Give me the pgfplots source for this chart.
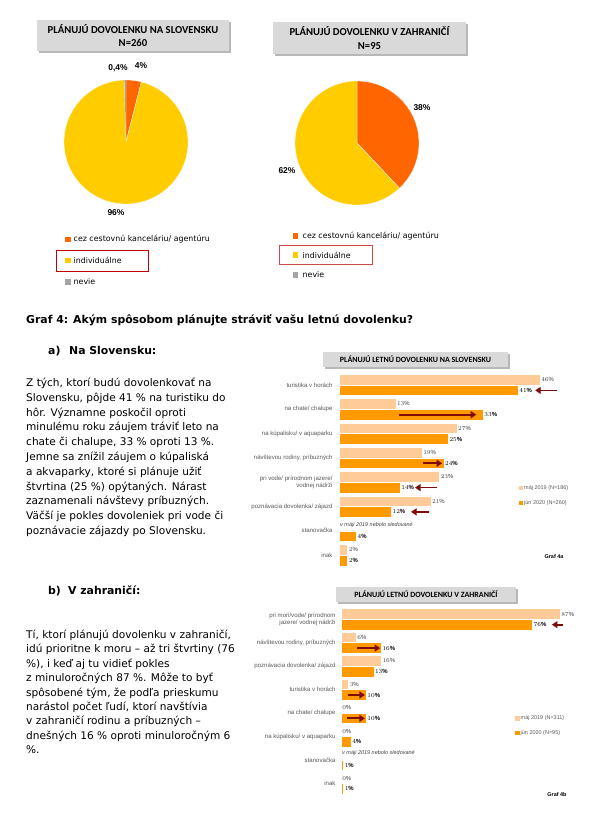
\documentclass[border=0pt]{standalone}
\usepackage{pgfplots}
\pgfplotsset{compat=1.18}
\usetikzlibrary{arrows.meta}
\usepackage{fontspec}
\setmainfont{DejaVu Sans}
\newfontfamily\arialf{Liberation Sans}
\newfontfamily\calf{Carlito}
\definecolor{pieOrange}{HTML}{FF6600}
\definecolor{pieYellow}{HTML}{FFCC00}
\definecolor{pieGrey}{HTML}{A5A5A5}
\definecolor{barPeach}{HTML}{FFCC99}
\definecolor{barOrange}{HTML}{FF9900}
\definecolor{arrRed}{HTML}{7F0B0B}
\definecolor{boxGrey}{HTML}{D9D9D9}
\definecolor{shadowGrey}{HTML}{B8B8B8}
\definecolor{labGrey}{HTML}{595959}
\definecolor{valGrey}{HTML}{404040}
\definecolor{boxRed}{HTML}{C00000}
\definecolor{boxRedB}{HTML}{D04848}
\newcommand{\bodyfont}{\fontsize{10.6}{14.8}\selectfont}
\newcommand{\headfont}{\bfseries\fontsize{10.9}{12}\selectfont}
\newcommand{\legfont}{\fontsize{7.9}{9}\selectfont}
\newcommand{\pielab}{\arialf\bfseries\fontsize{8.5}{10}\selectfont}
\newcommand{\catfont}{\arialf\fontsize{6.1}{7.4}\selectfont}
\newcommand{\valfont}{\arialf\fontsize{6}{7}\selectfont}
\newcommand{\smallfont}{\arialf\fontsize{5.5}{6.5}\selectfont}
\pgfplotsset{
  pieax/.style={scale only axis, width=124bp, height=124bp, xmin=-1, xmax=1, ymin=-1, ymax=1, hide axis, clip=false, anchor=center},
  barax/.style={scale only axis, anchor=north west, ymin=0.5, ymax=8.5, y dir=reverse, xmin=0, clip=false,
     axis line style={draw=none}, major tick length=0pt, xtick=\empty, ytick={1,2,3,4,5,6,7,8},
     yticklabel style={font=\catfont, text=labGrey, align=right},
     point meta=x, nodes near coords={\pgfmathprintnumber{\pgfplotspointmeta}\%}},
  b19/.style={xbar, bar shift=0pt, fill=barPeach, draw=white, line width=0.5bp,
     every node near coord/.append style={font=\valfont, text=valGrey, anchor=west, inner sep=1bp}},
  b20/.style={xbar, bar shift=0pt, fill=barOrange, draw=white, line width=0.5bp,
     every node near coord/.append style={font=\valfont\bfseries, text=black, anchor=west, inner sep=1bp}},
}
\tikzset{arr/.style={draw=arrRed, line width=1.8bp, -{Triangle[length=5.5bp,width=7bp]}}}
\begin{document}
\begin{tikzpicture}
\useasboundingbox (0,0) rectangle (593bp,-834bp);
\fill[white] (0,0) rectangle (593bp,-834bp);

% ---------- Pie 1: na Slovensku (4 / 96 / 0.4) ----------
\begin{axis}[pieax, at={(126bp,-142bp)}]
\addplot[fill=pieOrange, draw=white, line width=0.3bp, domain=75.66:90, samples=20] ({cos(x)},{sin(x)}) -- (axis cs:0,0) -- cycle;
\addplot[fill=pieYellow, draw=white, line width=0.3bp, domain=-268.56:75.66, samples=160] ({cos(x)},{sin(x)}) -- (axis cs:0,0) -- cycle;
\addplot[fill=pieGrey, draw=none, domain=-270:-268.56, samples=5] ({cos(x)},{sin(x)}) -- (axis cs:0,0) -- cycle;
\end{axis}

% ---------- Pie 2: v zahranici (38 / 62) ----------
\begin{axis}[pieax, at={(357bp,-143bp)}]
\addplot[fill=pieOrange, draw=white, line width=0.3bp, domain=-46.8:90, samples=60] ({cos(x)},{sin(x)}) -- (axis cs:0,0) -- cycle;
\addplot[fill=pieYellow, draw=white, line width=0.3bp, domain=-270:-46.8, samples=110] ({cos(x)},{sin(x)}) -- (axis cs:0,0) -- cycle;
\end{axis}

% ---------- Graf 4a ----------
\begin{axis}[barax, at={(339bp,-372.85bp)}, width=244.72bp, height=194.4bp, xmax=56, bar width=0.44,
  yticklabel style={xshift=-3bp},
  yticklabels={turistika v horách, na chate/ chalupe, {na kúpalisku/ v aquaparku}, {návštevou rodiny, príbuzných}, {pri vode/ prírodnom jazere/\\vodnej nádrži}, {poznávacia dovolenka/ zájazd}, stanovačka, inak}]
\addplot[b19] coordinates {(46,0.778) (13,1.778) (27,2.778) (19,3.778) (23,4.778) (21,5.778) (2,7.778)};
\addplot[b20] coordinates {(41,1.222) (33,2.222) (25,3.222) (24,4.222) (14,5.222) (12,6.222) (4,7.222) (2,8.222)};
\draw[arr] (axis cs:49.9,1.222) -- (axis cs:44.9,1.222);
\draw[arr] (axis cs:13.7,2.222) -- (axis cs:31.4,2.222);
\draw[arr] (axis cs:19.2,4.222) -- (axis cs:23.6,4.222);
\draw[arr] (axis cs:22.4,5.222) -- (axis cs:17.4,5.222);
\draw[arr] (axis cs:20.6,6.222) -- (axis cs:16.5,6.222);
\end{axis}

% ---------- Graf 4b ----------
\begin{axis}[barax, at={(341bp,-607.6bp)}, width=239.4bp, height=187.44bp, xmax=95, bar width=0.457,
  yticklabel style={xshift=-2bp},
  yticklabels={{pri mori/vode/ prírodnom\\jazere/ vodnej nádrži}, {návštevou rodiny, príbuzných}, {poznávacia dovolenka/ zájazd}, turistika v horách, na chate/ chalupe, {na kúpalisku/ v aquaparku}, stanovačka, inak}]
\addplot[b19] coordinates {(87,0.772) (6,1.772) (16,2.772) (3,3.772) (0,4.772) (0,5.772) (0,7.772)};
\addplot[b20] coordinates {(76,1.228) (16,2.228) (13,3.228) (10,4.228) (10,5.228) (4,6.228) (1,7.228) (1,8.228)};
\draw[arr] (axis cs:88.1,1.228) -- (axis cs:83.7,1.228);
\draw[arr] (axis cs:6.3,2.228) -- (axis cs:15.5,2.228);
\draw[arr] (axis cs:2.8,4.228) -- (axis cs:9.5,4.228);
\draw[arr] (axis cs:2.4,5.228) -- (axis cs:9.5,5.228);
\end{axis}

\begin{scope}[x=1bp,y=-1bp]
% pie title boxes
\fill[shadowGrey] (39,22) rectangle (231,53);
\fill[boxGrey] (37,20) rectangle (229,51);
\node[font=\calf\bfseries\fontsize{10.7}{13.4}\selectfont, align=center] at (133,35.5) {PLÁNUJÚ DOVOLENKU NA SLOVENSKU\\N=260};
\fill[shadowGrey] (275,24) rectangle (468,56);
\fill[boxGrey] (273,22) rectangle (466,54);
\node[font=\calf\bfseries\fontsize{10.7}{13.4}\selectfont, align=center] at (369.5,38) {PLÁNUJÚ DOVOLENKU V ZAHRANIČÍ\\N=95};
% pie labels
\node[font=\pielab] at (118,68) {0,4\%};
\node[font=\pielab] at (141,66) {4\%};
\node[font=\pielab] at (116,213) {96\%};
\node[font=\pielab] at (422,108) {38\%};
\node[font=\pielab] at (287,171) {62\%};
% pie legends
\fill[pieOrange] (65.3,236.5) rectangle ++(5.4,5.4);
\node[anchor=west, font=\legfont, inner sep=0] at (73.5,239.2) {cez cestovnú kanceláriu/ agentúru};
\fill[pieYellow] (65.3,257.8) rectangle ++(5.4,5.4);
\node[anchor=west, font=\legfont, inner sep=0] at (73.5,260.5) {individuálne};
\fill[pieGrey] (65.3,279.2) rectangle ++(5.4,5.4);
\node[anchor=west, font=\legfont, inner sep=0] at (73.5,281.9) {nevie};
\draw[boxRed, line width=1bp] (56,250.7) rectangle (148.3,271);
\fill[pieOrange] (293,233.3) rectangle ++(5.4,5.4);
\node[anchor=west, font=\legfont, inner sep=0] at (302.5,236) {cez cestovnú kanceláriu/ agentúru};
\fill[pieYellow] (293,252.3) rectangle ++(5.4,5.4);
\node[anchor=west, font=\legfont, inner sep=0] at (302.5,255) {individuálne};
\fill[pieGrey] (293,272.3) rectangle ++(5.4,5.4);
\node[anchor=west, font=\legfont, inner sep=0] at (302.5,275) {nevie};
\draw[boxRedB, line width=1bp] (279,245.7) rectangle (372,264);

% headings
\node[anchor=base west, font=\headfont, inner sep=0] at (26,323) {Graf 4: Akým spôsobom plánujte stráviť vašu letnú dovolenku?};
\node[anchor=base west, font=\headfont, inner sep=0] at (48,354) {a)};
\node[anchor=base west, font=\headfont, inner sep=0] at (69,354) {Na Slovensku:};
\node[anchor=base west, font=\headfont, inner sep=0] at (48,594) {b)};
\node[anchor=base west, font=\headfont, inner sep=0] at (68,594) {V zahraničí:};

% body text a)
\begin{scope}[every node/.style={anchor=base west, font=\bodyfont, inner sep=0}]
\node at (26,386.5) {Z tých, ktorí budú dovolenkovať na};
\node at (26,401.3) {Slovensku, pôjde 41 \% na turistiku do};
\node at (26,416.1) {hôr. Významne poskočil oproti};
\node at (26,430.9) {minulému roku záujem tráviť leto na};
\node at (26,445.7) {chate či chalupe, 33 \% oproti 13 \%.};
\node at (26,460.5) {Jemne sa znížil záujem o kúpaliská};
\node at (26,475.3) {a akvaparky, ktoré si plánuje užiť};
\node at (26,490.1) {štvrtina (25 \%) opýtaných. Nárast};
\node at (26,504.9) {zaznamenali návštevy príbuzných.};
\node at (26,519.7) {Väčší je pokles dovoleniek pri vode či};
\node at (26,534.5) {poznávacie zájazdy po Slovensku.};
% body text b)
\node at (26,638.5) {Tí, ktorí plánujú dovolenku v zahraničí,};
\node at (26,652.9) {idú prioritne k moru – až tri štvrtiny (76};
\node at (26,667.3) {\%), i keď aj tu vidieť pokles};
\node at (26,681.7) {z minuloročných 87 \%. Môže to byť};
\node at (26,696.1) {spôsobené tým, že podľa prieskumu};
\node at (26,710.5) {narástol počet ľudí, ktorí navštívia};
\node at (26,724.9) {v zahraničí rodinu a príbuzných –};
\node at (26,739.3) {dnešných 16 \% oproti minuloročným 6};
\node at (26,753.7) {\%.};
\end{scope}

% bar chart title boxes
\fill[shadowGrey] (325,354) rectangle (510,369);
\fill[boxGrey] (323,352) rectangle (508,367);
\node[font=\calf\bfseries\fontsize{8}{9}\selectfont] at (415.5,359.5) {PLÁNUJÚ LETNÚ DOVOLENKU NA SLOVENSKU};
\fill[shadowGrey] (338,589) rectangle (518,604);
\fill[boxGrey] (336,587) rectangle (516,602);
\node[font=\calf\bfseries\fontsize{8}{9}\selectfont] at (426,594.5) {PLÁNUJÚ LETNÚ DOVOLENKU V ZAHRANIČÍ};

% bar chart notes and legends
\node[anchor=west, font=\smallfont\itshape, text=valGrey, inner sep=0] at (340,525.3) {v máji 2019 nebolo sledované};
\node[anchor=west, font=\smallfont\itshape, text=valGrey, inner sep=0] at (342,753.2) {v máji 2019 nebolo sledované};
\fill[barPeach] (518.8,485.8) rectangle ++(4.4,4.4);
\node[anchor=west, font=\smallfont, text=labGrey, inner sep=0] at (524,488) {máj 2019 (N=186)};
\fill[barOrange] (518.8,500.8) rectangle ++(4.4,4.4);
\node[anchor=west, font=\smallfont, text=labGrey, inner sep=0] at (524,503) {jún 2020 (N=260)};
\fill[barPeach] (515.1,716.1) rectangle ++(4.4,4.4);
\node[anchor=west, font=\smallfont, text=labGrey, inner sep=0] at (520.5,718.3) {máj 2019 (N=311)};
\fill[barOrange] (515.1,730.5) rectangle ++(4.4,4.4);
\node[anchor=west, font=\smallfont, text=labGrey, inner sep=0] at (520.5,732.7) {jún 2020 (N=95)};
\node[font=\smallfont\bfseries] at (554,557) {Graf 4a};
\node[font=\smallfont\bfseries] at (557,795) {Graf 4b};
\end{scope}
\end{tikzpicture}
\end{document}
